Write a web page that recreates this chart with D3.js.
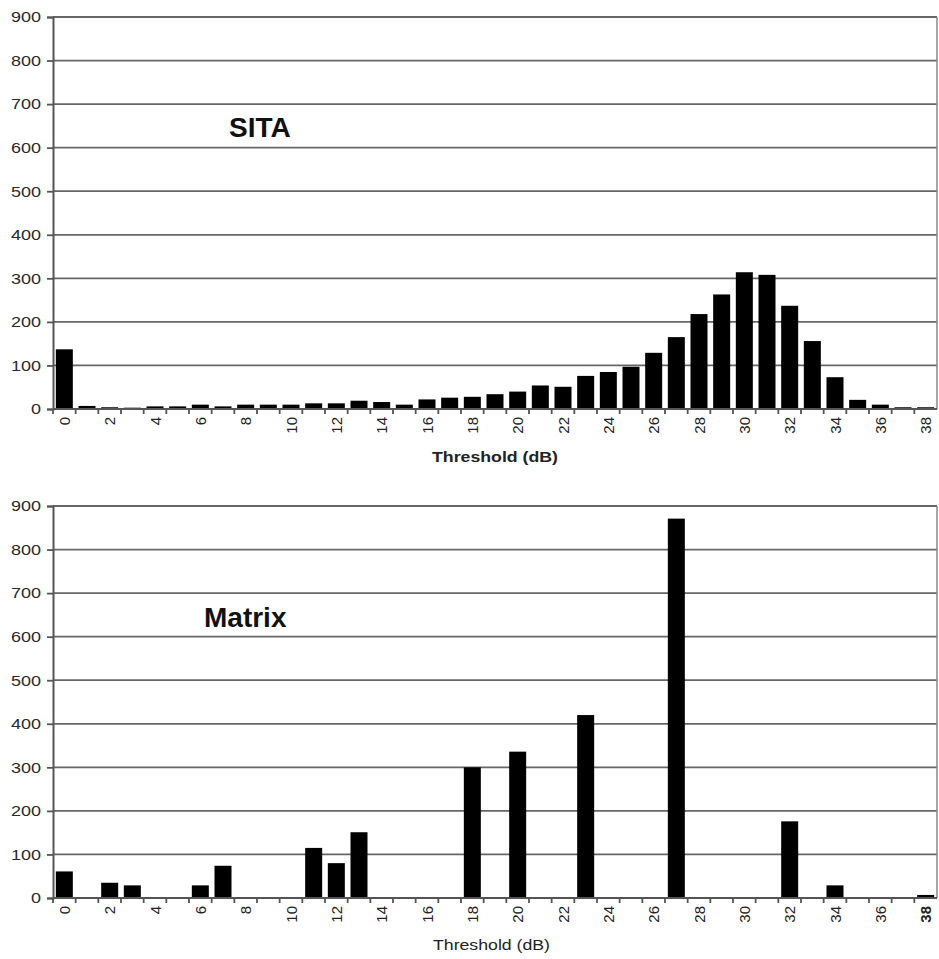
<!DOCTYPE html>
<html>
<head>
<meta charset="utf-8">
<script src="https://cdn.jsdelivr.net/npm/d3@7"></script>
<style>
  body { margin: 0; background: #fff; }
  svg { display: block; font-family: "Liberation Sans", Arial, sans-serif; }
</style>
</head>
<body>
<svg width="939" height="959"></svg>
<script>
// thresholds 0..38 dB
const thresholds = [0, 1, 2, 3, 4, 5, 6, 7, 8, 9, 10, 11, 12, 13, 14, 15, 16, 17, 18, 19,
  20, 21, 22, 23, 24, 25, 26, 27, 28, 29, 30, 31, 32, 33, 34, 35, 36, 37, 38];
const sitaCounts = [137, 7, 4, 3, 6, 6, 10, 6, 10, 10, 10, 13, 13, 19, 16, 10, 22, 26, 28, 34,
  40, 54, 51, 76, 85, 97, 129, 165, 218, 263, 314, 308, 237, 156, 73, 21, 10, 4, 4];
const matrixCounts = [61, 0, 35, 29, 0, 0, 29, 74, 0, 0, 0, 115, 80, 151, 0, 0, 0, 0, 300, 0,
  336, 0, 0, 420, 0, 0, 0, 871, 0, 0, 0, 0, 176, 0, 29, 0, 0, 0, 7];
const yTicks = [0, 100, 200, 300, 400, 500, 600, 700, 800, 900];
const xLabelStep = 2;

const svg = d3.select("svg");

const drawChart = (values, opts) => {
  const g = svg.append("g");
  const x = d3.scaleBand().domain(thresholds).range([opts.left, opts.right])
    .paddingInner(0.25).paddingOuter(0.125);
  const y = d3.scaleLinear().domain([0, 900]).range([opts.bottom, opts.top]);
  const slot = x.step();
  const gap = (slot - x.bandwidth()) / 2;

  // grid lines
  g.append("g").selectAll("line").data(yTicks.slice(1)).join("line")
    .attr("x1", opts.left).attr("x2", opts.right)
    .attr("y1", d => y(d)).attr("y2", d => y(d))
    .attr("stroke", "#666").attr("stroke-width", 1.8);

  // right border
  g.append("line")
    .attr("x1", opts.right).attr("x2", opts.right)
    .attr("y1", y(900)).attr("y2", y(0))
    .attr("stroke", "#888").attr("stroke-width", 1.5);

  // y axis
  const yAxis = g.append("g").attr("transform", `translate(${opts.left},0)`)
    .call(d3.axisLeft(y).tickValues(yTicks).tickSize(6).tickPadding(0));
  yAxis.select(".domain").attr("stroke", "#555").attr("stroke-width", 2);
  yAxis.selectAll(".tick line").attr("stroke", "#555").attr("stroke-width", 1.8);
  yAxis.selectAll("text")
    .attr("x", 0)
    .attr("transform", "translate(-12,0) scale(1.2,1)")
    .attr("font-size", 15).attr("fill", "#2a2a2a")
    .attr("font-family", "Liberation Sans, Arial, sans-serif");

  // bars
  g.append("g").selectAll("rect").data(values.map((v, i) => ({ t: thresholds[i], v })))
    .join("rect")
    .filter(d => d.v > 0)
    .attr("x", d => x(d.t))
    .attr("width", x.bandwidth())
    .attr("y", d => y(d.v))
    .attr("height", d => y(0) - y(d.v))
    .attr("fill", "#000");

  // x axis line + boundary ticks
  g.append("line")
    .attr("x1", opts.left).attr("x2", opts.right)
    .attr("y1", y(0)).attr("y2", y(0))
    .attr("stroke", "#555").attr("stroke-width", 2);
  g.append("g").selectAll("line").data(thresholds).join("line")
    .attr("x1", d => x(d) - gap).attr("x2", d => x(d) - gap)
    .attr("y1", y(0)).attr("y2", y(0) + 5)
    .attr("stroke", "#555").attr("stroke-width", 1.8);

  // rotated labels for even thresholds
  g.append("g").selectAll("text").data(thresholds.filter(d => d % xLabelStep === 0)).join("text")
    .attr("transform", d => `translate(${x(d) + x.bandwidth() / 2 + 5.5},${y(0) + 8}) rotate(-90)`)
    .attr("text-anchor", "end")
    .attr("font-size", 15)
    .attr("font-weight", d => (opts.boldLast && d === 38 ? "bold" : "normal"))
    .attr("fill", "#222")
    .text(d => d);

  // axis title
  g.append("text")
    .attr("x", opts.titleX)
    .attr("y", opts.titleY)
    .attr("font-size", 15)
    .attr("font-weight", opts.boldTitle ? "bold" : "normal")
    .attr("textLength", opts.titleW)
    .attr("lengthAdjust", "spacingAndGlyphs")
    .attr("fill", "#222")
    .text("Threshold (dB)");

  // chart label
  g.append("text")
    .attr("x", opts.labelX).attr("y", opts.labelY)
    .attr("font-size", 28).attr("font-weight", "bold").attr("fill", "#111")
    .text(opts.label);
};

drawChart(sitaCounts, {
  left: 53, right: 937, top: 17, bottom: 409,
  titleX: 432, titleY: 462, titleW: 126, boldTitle: true,
  label: "SITA", labelX: 229, labelY: 137
});
drawChart(matrixCounts, {
  left: 53, right: 937, top: 506, bottom: 898,
  titleX: 433, titleY: 950, titleW: 117, boldTitle: false, boldLast: true,
  label: "Matrix", labelX: 204, labelY: 627
});
</script>
</body>
</html>
